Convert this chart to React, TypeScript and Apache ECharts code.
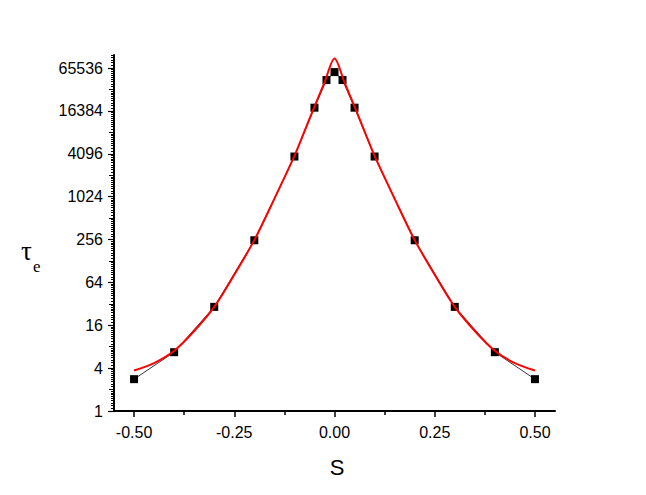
import React, { useEffect, useRef } from "react";
import * as echarts from "echarts";

// Measured points (black squares)
const sValues = [-0.5, -0.4, -0.3, -0.2, -0.1, -0.05, -0.02, 0, 0.02, 0.05, 0.1, 0.2, 0.3, 0.4, 0.5];
const tauValues = [2.8, 6.7, 29, 250, 3750, 18200, 44500, 57500, 44500, 18200, 3750, 250, 29, 6.7, 2.8];

// Fitted curve (red)
const fitS = [-0.5, -0.45, -0.4, -0.35, -0.3, -0.25, -0.2, -0.15, -0.1, -0.075, -0.05, -0.025, 0,
  0.025, 0.05, 0.075, 0.1, 0.15, 0.2, 0.25, 0.3, 0.35, 0.4, 0.45, 0.5];
const fitTau = [3.7, 4.7, 7.0, 13.3, 29, 82, 251, 955, 3820, 8480, 18800, 41200, 89500,
  41200, 18800, 8480, 3820, 955, 251, 82, 29, 13.3, 7.0, 4.7, 3.7];

// Axis ticks
const yMajorTicks = [1, 4, 16, 64, 256, 1024, 4096, 16384, 65536];
const yMediumTicks = [2, 8, 32, 128, 512, 2048, 8192, 32768];
const yMinorMultipliers = [1.1, 1.2, 1.3, 1.4, 1.5, 1.6, 1.7, 1.8, 1.9];
const yOctaves = [1, 2, 4, 8, 16, 32, 64, 128, 256, 512, 1024, 2048, 4096, 8192, 16384, 32768, 65536];
const xMajorTicks = [-0.5, -0.25, 0, 0.25, 0.5];
const xMinorTicks = [-0.375, -0.125, 0.125, 0.375];

const Y_MIN = 1;
const Y_MAX = 100000;
const FONT = "'Liberation Sans', Arial, Helvetica, sans-serif";

export default function App() {
  const ref = useRef<HTMLDivElement>(null);

  useEffect(() => {
    if (!ref.current) return;
    const chart = echarts.init(ref.current, undefined, { renderer: "svg" });

    const yMinorTicks: number[] = [];
    yOctaves.forEach((o) => yMinorMultipliers.forEach((m) => {
      const v = o * m;
      if (v <= Y_MAX) yMinorTicks.push(v);
    }));

    const baseY = {
      type: "log" as const,
      logBase: 2,
      min: Y_MIN,
      max: Y_MAX,
      position: "left" as const,
      splitLine: { show: false },
      minorTick: { show: false },
    };

    const fitData = fitS.map((s, i) => [s, fitTau[i]]);
    const pointData = sValues.map((s, i) => [s, tauValues[i]]);

    chart.setOption({
      animation: false,
      backgroundColor: "#ffffff",
      grid: { left: 114, right: 91, top: 55, bottom: 84, containLabel: false },
      xAxis: [
        {
          type: "value",
          min: -0.55,
          max: 0.55,
          position: "bottom",
          axisLine: { show: true, onZero: false, lineStyle: { color: "#000", width: 2 } },
          axisTick: { show: true, customValues: xMajorTicks, length: 6, lineStyle: { color: "#000", width: 1.5 } },
          axisLabel: {
            customValues: xMajorTicks,
            formatter: (v: number) => v.toFixed(2),
            color: "#000",
            fontFamily: FONT,
            fontSize: 16,
            margin: 13,
          },
          splitLine: { show: false },
        },
        {
          type: "value",
          min: -0.55,
          max: 0.55,
          position: "bottom",
          axisLine: { show: false, onZero: false },
          axisTick: { show: true, customValues: xMinorTicks, length: 4, lineStyle: { color: "#000", width: 1.5 } },
          axisLabel: { show: false },
          splitLine: { show: false },
        },
      ],
      yAxis: [
        {
          ...baseY,
          axisLine: { show: true, onZero: false, lineStyle: { color: "#000", width: 2 } },
          axisTick: { show: true, customValues: yMajorTicks, length: 6, lineStyle: { color: "#000", width: 1.2 } },
          axisLabel: {
            customValues: yMajorTicks,
            formatter: (v: number) => String(Math.round(v)),
            color: "#000",
            fontFamily: FONT,
            fontSize: 16,
            margin: 11,
          },
        },
        {
          ...baseY,
          axisLine: { show: false, onZero: false },
          axisTick: { show: true, customValues: yMediumTicks, length: 5, lineStyle: { color: "#000", width: 1 } },
          axisLabel: { show: false },
        },
        {
          ...baseY,
          axisLine: { show: false, onZero: false },
          axisTick: { show: true, customValues: yMinorTicks, length: 3, lineStyle: { color: "#000", width: 1 } },
          axisLabel: { show: false },
        },
      ],
      graphic: [
        {
          type: "text",
          x: 21,
          y: 251,
          style: { text: "τ", font: "27px 'Liberation Serif', 'Times New Roman', serif", fill: "#000", textAlign: "left", textVerticalAlign: "middle" },
        },
        {
          type: "text",
          x: 33,
          y: 266,
          style: { text: "e", font: "17px 'Liberation Serif', 'Times New Roman', serif", fill: "#000", textAlign: "left", textVerticalAlign: "middle" },
        },
        {
          type: "text",
          x: 337,
          y: 467,
          style: { text: "S", font: `22px ${FONT}`, fill: "#000", textAlign: "center", textVerticalAlign: "middle" },
        },
      ],
      series: [
        {
          type: "line",
          xAxisIndex: 0,
          yAxisIndex: 0,
          data: pointData,
          symbol: "rect",
          symbolSize: 8,
          itemStyle: { color: "#000" },
          lineStyle: { color: "#000", width: 0.8 },
          z: 2,
        },
        {
          type: "line",
          xAxisIndex: 0,
          yAxisIndex: 0,
          data: fitData,
          smooth: 0.3,
          showSymbol: false,
          symbol: "none",
          lineStyle: { color: "#ff0000", width: 2 },
          z: 3,
        },
      ],
    });

    return () => chart.dispose();
  }, []);

  return <div ref={ref} style={{ width: 646, height: 495, position: "absolute", left: 0, top: 0 }} />;
}
